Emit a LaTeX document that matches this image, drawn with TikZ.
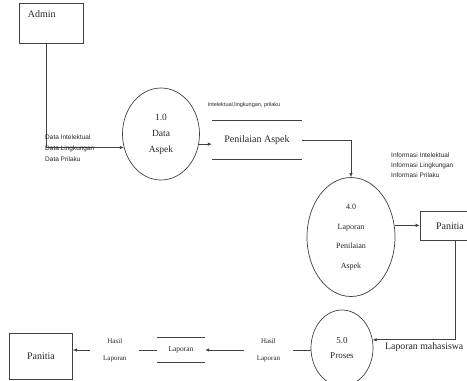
\documentclass[tikz,border=0pt]{standalone}
\usepackage{fontspec}
\setmainfont{Liberation Serif}
\newfontfamily\notefont{Liberation Sans}
\usetikzlibrary{positioning, arrows.meta, shapes.geometric}
\tikzset{
  entity/.style={
    draw=black!75,
    line width=0.7pt,
    rectangle,
    text=black!85,
    font=\fontsize{10}{12}\selectfont
  },
  process/.style={
    draw=black!75,
    line width=0.7pt,
    ellipse,
    align=center,
    inner sep=0pt,
    text=black!85
  },
  storeline/.style={
    draw=black!75,
    line width=0.7pt
  },
  datastore/.style={
    rectangle,
    align=center,
    text=black!85,
    append after command={
      (\tikzlastnode.north west) edge[storeline] (\tikzlastnode.north east)
      (\tikzlastnode.south west) edge[storeline] (\tikzlastnode.south east)
    }
  },
  flow/.style={
    draw=black!75,
    line width=0.7pt,
    -{Latex[length=4pt,width=3.5pt]}
  },
  flowlabel/.style={
    fill=white,
    align=center,
    inner xsep=13pt,
    text=black!85,
    font=\fontsize{7}{17}\selectfont
  },
  note/.style={
    align=left,
    inner sep=0pt,
    text=black!85,
    font=\notefont\fontsize{6.5}{11}\selectfont
  }
}

\begin{document}
\begin{tikzpicture}[x=1pt, y=-1pt]
        \useasboundingbox (0,0) rectangle (467,381);

        % terminators
        \node[entity, minimum width=64, minimum height=40,
              label={[shift={(9pt,-8pt)}, anchor=north west, inner sep=0pt,
                      text=black!85, font=\fontsize{10}{12}\selectfont]north west:Admin}] (admin) at (51,23) {};
        \node[entity, minimum width=60, minimum height=29] (panitiaa) at (450,226) {Panitia};
        \node[entity, minimum width=63, minimum height=46] (panitiab) at (41,356) {Panitia};

        % processes
        \node[process, minimum width=77, minimum height=92,
              font=\fontsize{9.5}{16}\selectfont] (dataaspek) at (161,134) {1.0\\Data\\Aspek};
        \node[process, minimum width=88, minimum height=119,
              font=\fontsize{8}{19.5}\selectfont] (laporanpa) at (351,237) {4.0\\Laporan\\Penilaian\\Aspek};
        \node[process, minimum width=62, minimum height=76,
              font=\fontsize{9}{15}\selectfont] (proses) at (342,348) {5.0\\Proses};

        % data stores
        \node[datastore, minimum width=90, minimum height=38,
              font=\fontsize{10}{12}\selectfont] (penilaian) at (257,140) {Penilaian Aspek};
        \node[datastore, minimum width=48, minimum height=25,
              font=\fontsize{7.5}{9}\selectfont] (laporan) at (181,350) {Laporan};

        % flows
        \draw[flow] ([xshift=-5pt]admin.south) |- (dataaspek.200);
        \draw[flow] (dataaspek.345) -- (dataaspek.345 -| penilaian.west);
        \draw[flow] (penilaian.east) -| (laporanpa.north);
        \draw[flow] (laporanpa.15) -- (laporanpa.15 -| panitiaa.west);
        \draw[flow] ([xshift=5pt]panitiaa.south) |- (proses.15);
        \draw[flow] (proses.west |- laporan.east) -- node[flowlabel, pos=0.4] {Hasil\\Laporan} (laporan.east);
        \draw[flow] (laporan.west) -- node[flowlabel, pos=0.5] {Hasil\\Laporan} (laporan.west -| panitiab.east);

        % flow texts
        \node[note, anchor=north west] (datatext) at (45,135) {Data Intelektual\\Data Lingkungan\\Data Prilaku};
        \node[note, font=\notefont\fontsize{5.5}{6}\selectfont] (aspektext) at (244,105) {Intelektual,lingkungan, prilaku};
        \node[note, anchor=north west, font=\notefont\fontsize{6.5}{10}\selectfont] (infotext) at (391,153) {Informasi Intelektual\\Informasi Lingkungan\\Informasi Prilaku};
        \node[note, anchor=west, font=\fontsize{9.8}{12}\selectfont] (mhstext) at (385,347) {Laporan mahasiswa};
      \end{tikzpicture}
\end{document}
